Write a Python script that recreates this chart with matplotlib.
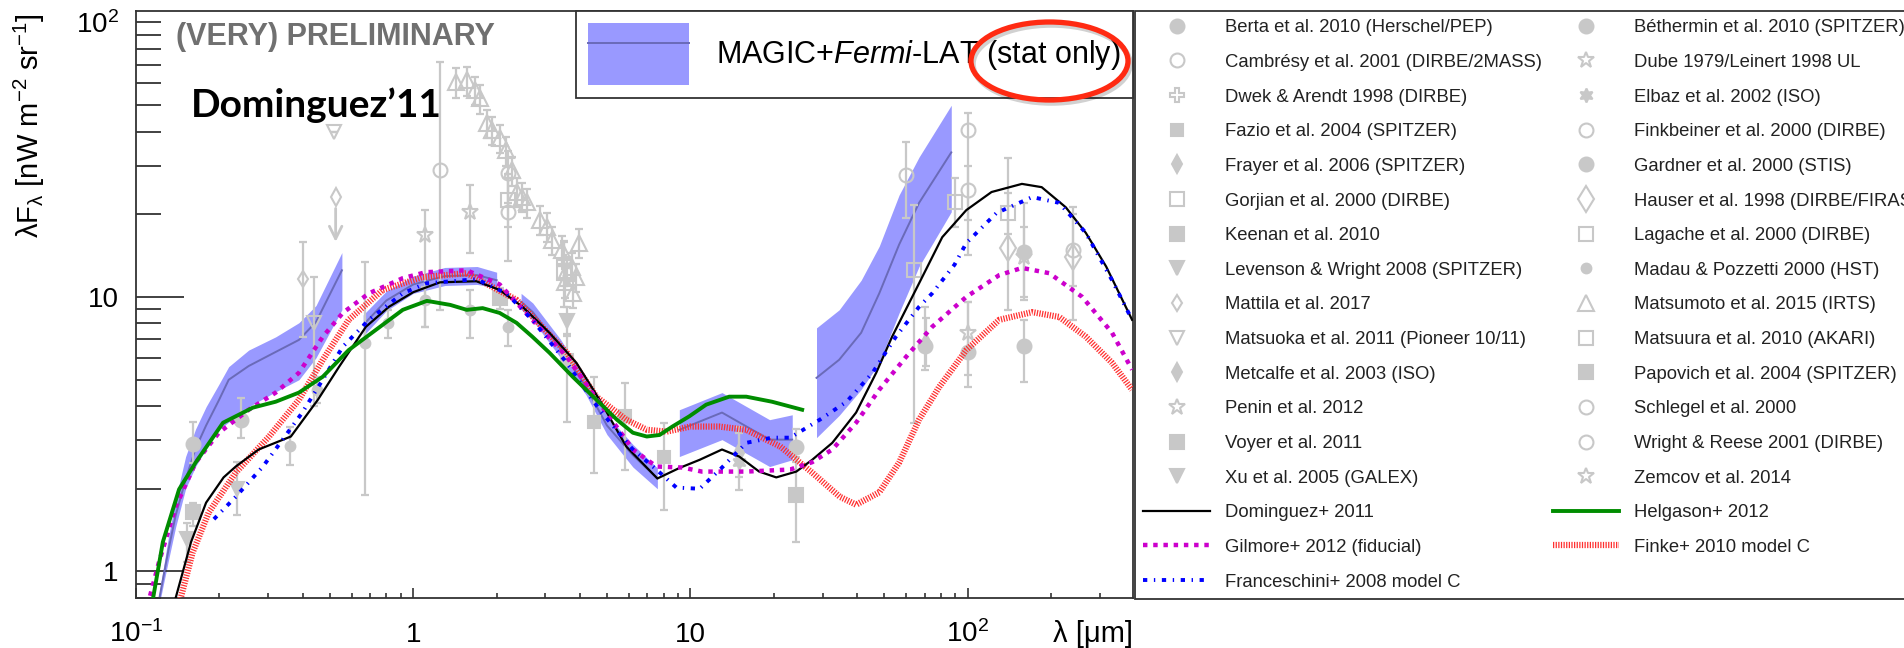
import numpy as np
import matplotlib
matplotlib.use("Agg")
import matplotlib.pyplot as plt
from matplotlib.lines import Line2D
from matplotlib.patches import Patch, Ellipse
from matplotlib.ticker import LogLocator, NullFormatter

plt.rcParams["font.family"] = ["Liberation Sans", "DejaVu Sans"]
plt.rcParams["mathtext.fontset"] = "custom"
plt.rcParams["mathtext.rm"] = "Liberation Sans"
plt.rcParams["mathtext.it"] = "Liberation Sans:italic"
plt.rcParams["mathtext.bf"] = "Liberation Sans:bold"

GREY = "#c8c8c8"
BAND = "#9999ff"
BAND_LINE = "#6a6ab8"

# EBL models: wavelength [um] and lambda*F_lambda [nW m^-2 sr^-1]
dom_wl = [0.136, 0.139, 0.158, 0.179, 0.207, 0.229, 0.277, 0.362, 0.453, 0.540, 0.675,
          0.817, 1.0, 1.25, 1.69, 2.05, 2.48, 3.1, 3.88, 4.7, 5.87, 7.6, 9.12, 10.8,
          13.0, 15.0, 17.7, 20.4, 24.1, 27.5, 32.5, 39.6, 46.8, 53.4, 66.8, 81, 98.9,
          122, 157, 185, 226, 267, 316, 392]
dom_f = [0.75, 0.8, 1.28, 1.78, 2.2, 2.41, 2.78, 3.1, 4.22, 5.56, 7.78, 9.2, 10.4, 11.3,
         11.4, 10.6, 9.2, 7.4, 5.75, 4.22, 2.85, 2.18, 2.38, 2.55, 2.78, 2.62, 2.31, 2.2,
         2.31, 2.55, 2.94, 3.79, 5.29, 7.16, 11.2, 16.5, 20.7, 24.1, 25.8, 25.1, 21.2,
         17.1, 12.9, 8.25]

gil_wl = [0.110, 0.121, 0.139, 0.164, 0.199, 0.255, 0.319, 0.387, 0.472, 0.557, 0.692,
          0.917, 1.11, 1.56, 2.05, 2.69, 3.58, 4.7, 6.2, 7.54, 9.35, 11.0, 15.9, 22.9,
          27.5, 32.5, 39.6, 48, 60, 74.5, 98.9, 130, 157, 197, 259, 332, 392]
gil_f = [0.75, 1.08, 1.72, 2.49, 3.2, 3.88, 4.48, 5.29, 7.16, 8.74, 10.3, 11.7, 12.3,
         12.5, 11.1, 8.25, 6.05, 4.11, 2.78, 2.41, 2.39, 2.31, 2.31, 2.35, 2.5, 2.78,
         3.48, 4.59, 6.05, 7.78, 10.0, 12.0, 12.75, 12.2, 10.0, 7.4, 5.43]

fra_wl = [0.191, 0.229, 0.287, 0.338, 0.398, 0.472, 0.557, 0.692, 0.917, 1.11, 1.69,
          2.17, 2.69, 3.58, 4.7, 6.2, 7.54, 8.9, 10.8, 13.0, 15.9, 19.7, 22.9, 29.3,
          36.6, 45.4, 55.1, 66.8, 74.5, 89.7, 98.9, 127, 171, 214, 267, 332, 392]
fra_f = [1.55, 1.87, 2.41, 3.02, 3.79, 5.0, 6.58, 8.25, 10.3, 11.2, 11.6, 10.3, 8.25,
         5.75, 3.88, 2.78, 2.35, 2.02, 2.0, 2.39, 2.94, 3.07, 3.07, 3.57, 4.15, 5.29,
         7.16, 9.2, 10.3, 13.1, 15.7, 20.2, 23.1, 22.0, 17.1, 11.5, 8.25]

fin_wl = [0.140, 0.145, 0.160, 0.183, 0.229, 0.302, 0.387, 0.472, 0.585, 0.776, 1.08,
          1.56, 2.36, 3.58, 4.58, 5.87, 6.96, 8.2, 10.0, 12.7, 15.9, 21.1, 27.5, 34.6,
          39.6, 48, 56.6, 66.8, 79, 98.9, 130, 171, 214, 267, 332, 392]
fin_f = [0.75, 0.8, 1.17, 1.64, 2.29, 3.1, 4.22, 5.9, 8.25, 10.6, 11.8, 12.2, 9.75,
         6.26, 4.33, 3.57, 3.28, 3.23, 3.37, 3.37, 3.28, 2.85, 2.29, 1.87, 1.75, 1.94,
         2.49, 3.57, 4.7, 6.4, 8.25, 8.8, 8.45, 7.16, 5.75, 4.59]

hel_wl = [0.114, 0.125, 0.143, 0.164, 0.206, 0.264, 0.319, 0.387, 0.472, 0.585, 0.733,
          0.917, 1.12, 1.36, 1.56, 1.78, 2.05, 2.36, 2.69, 3.1, 3.76, 4.58, 5.43, 6.2,
          6.96, 7.74, 8.61, 9.9, 11.4, 13.8, 15.9, 19.7, 25.3]
hel_f = [0.75, 1.28, 1.99, 2.49, 3.48, 3.95, 4.15, 4.48, 5.12, 6.4, 7.58, 8.97, 9.67,
         9.35, 8.97, 9.1, 8.74, 8.04, 7.16, 6.26, 5.12, 4.22, 3.57, 3.2, 3.1, 3.14, 3.37,
         3.67, 4.05, 4.33, 4.33, 4.15, 3.88]

# MAGIC+Fermi-LAT reconstructed EBL, one list per wavelength segment
band_wl = [[0.120, 0.131, 0.139, 0.151, 0.164, 0.179, 0.199, 0.216, 0.255, 0.319, 0.387, 0.446, 0.553],
           [0.66, 0.8, 1.0, 1.3, 1.7, 2.0],
           [2.45, 2.7, 3.4, 4.2, 5.0, 6.2, 7.6],
           [9.12, 13.0, 19.3, 23.3],
           [28.5, 34.4, 41.3, 48.0, 56.6, 66.8, 87.3]]
band_hi = [[0.78, 1.34, 1.83, 2.62, 3.3, 3.98, 4.8, 5.57, 6.4, 7.15, 8.05, 9.3, 14.5],
           [8.6, 10.5, 11.9, 12.8, 12.9, 12.3],
           [10.3, 9.5, 7.0, 5.0, 3.7, 2.9, 2.38],
           [3.88, 4.48, 3.57, 3.72],
           [7.71, 8.97, 11.5, 15.3, 23.5, 32.3, 49.9]]
band_lo = [[0.72, 1.10, 1.45, 2.0, 2.41, 2.8, 3.28, 3.5, 3.98, 4.51, 4.99, 6.0, 8.97],
           [7.2, 8.9, 10.3, 11.0, 11.1, 10.8],
           [9.0, 8.2, 6.0, 4.4, 3.15, 2.4, 2.0],
           [2.62, 3.02, 2.41, 2.55],
           [3.07, 3.7, 4.6, 5.75, 8.74, 12.9, 20.4]]
band_mid = [[0.75, 1.2, 1.6, 2.16, 2.8, 3.4, 4.2, 4.99, 5.6, 6.3, 6.97, 8.1, 12.5],
            [7.9, 9.7, 11.1, 11.9, 12.0, 11.5],
            [9.6, 8.8, 6.5, 4.7, 3.4, 2.65, 2.18],
            [3.28, 3.79, 3.02, 3.02],
            [5.07, 5.9, 7.4, 10.3, 15.5, 22.0, 33.6]]

# measurements: wavelength, value, lower end, upper end of the error bar
berta = ([100, 160], [6.3, 6.6], [4.7, 4.9], [9.6, 8.25])
cambresy = ([1.25, 2.2], [28.9, 20.4], [8.97, 13.5], [71.5, 28.0])
dwek = ([3.5], [13.4], [11.0], [16.0])
fazio = ([3.6, 4.5, 5.8, 8.0], [5.9, 3.5, 3.67, 2.62], [3.5, 2.29, 2.35, 1.68], [7.2, 5.12, 4.87, 3.48])
frayer = ([71], [6.8], [5.6], [8.4])
gorjian = ([2.2, 3.5], [22.5, 12.2], [17.9, 9.2], [27.2, 15.8])
keenan = ([2.05], [9.9], [9.0], [10.8])
levenson = ([3.6], [8.2], [7.3], [9.2])
mattila = ([0.40], [11.6], [7.15], [15.9])
mattila_ul = ([0.525], [23.1], [15.5])
matsuoka = ([0.44, 0.52], [8.04, 39.8], [4.0, 39.8], [11.8, 39.8])
metcalfe = ([15], [2.7], [2.2], [3.2])
penin = ([100, 160], [7.4, 14.0], [5.2, 10.0], [9.6, 18.0])
voyer = ([0.16], [1.64], [1.46], [1.78])
xu = ([0.153, 0.231], [1.31, 2.0], [1.08, 1.6], [1.5, 2.5])
bethermin = ([24, 70, 160], [2.85, 6.6, 14.6], [2.5, 5.43, 9.75], [3.3, 9.2, 22.0])
dube = ([], [], [], [])
elbaz = ([15.0], [2.5], [1.98], [3.37])
finkbeiner = ([60, 100], [27.8, 40.4], [19.4, 14.2], [36.6, 46.7])
gardner = ([0.16, 0.24], [2.92, 3.57], [2.49, 3.07], [3.51, 4.29])
hauser = ([140, 240], [15.1, 14.0], [8.97, 8.25], [32.0, 21.3])
lagache = ([140], [20.2], [17.0], [24.0])
madau = ([0.36, 0.45, 0.67, 0.81, 1.1, 1.6, 2.2], [2.87, 4.59, 6.8, 8.05, 9.75, 8.97, 7.78],
         [2.45, 4.1, 1.9, 7.1, 7.8, 7.1, 6.6], [3.37, 5.1, 13.4, 8.97, 10.9, 10.6, 8.97])
matsumoto = ([1.43, 1.56, 1.67, 1.74, 1.84, 1.93, 2.05, 2.17, 2.27, 2.36, 2.46, 2.57, 2.86,
              3.03, 3.18, 3.43, 3.52, 3.6, 3.73, 3.76, 3.88, 3.98],
             [60.5, 61.5, 56.6, 52.9, 42.9, 40.5, 37.8, 34.2, 28.9, 24.1, 23.1, 22.1, 19.1,
              18.0, 16.1, 14.8, 11.3, 12.5, 12.9, 10.3, 11.8, 15.7],
             [53, 54, 50, 46.5, 38, 35.6, 33.3, 30, 25.4, 21.2, 20.3, 19.4, 16.8, 15.8, 14.2,
              13, 9.9, 11, 11.4, 9.1, 10.4, 13.8],
             [68, 69, 63, 59, 48, 45.4, 42.3, 38.3, 32.4, 27, 25.9, 24.8, 21.4, 20.2, 18,
              16.6, 12.7, 14, 14.4, 11.5, 13.2, 17.6])
matsuura = ([64, 90], [12.5, 22.2], [3.48, 18.0], [21.6, 27.0])
papovich = ([24], [1.9], [1.28], [2.6])
schlegel = ([100, 240], [24.5, 14.8], [19.0, 11.0], [30.0, 20.0])
wright = ([2.2], [28.2], [22.0], [34.0])
zemcov = ([1.1, 1.6], [16.8, 20.4], [7.8, 14.5], [20.7, 25.5])

fig = plt.figure(figsize=(19.04, 6.48), dpi=100)
ax = fig.add_axes([136 / 1904, 50 / 648, 997 / 1904, 587 / 648])
ax.set_xscale("log")
ax.set_yscale("log")
ax.set_xlim(0.1, 395)
ax.set_ylim(0.8, 110)

# MAGIC+Fermi-LAT band
for wl, lo, hi, mid in zip(band_wl, band_lo, band_hi, band_mid):
    ax.fill_between(wl, lo, hi, color=BAND, lw=0, zorder=1.5)
    ax.plot(wl, mid, color=BAND_LINE, lw=1.4, zorder=1.6)


def draw_points(data, marker, filled, ms, label):
    wl, f, lo, hi = (np.array(v, dtype=float) for v in data)
    if len(wl):
        ax.errorbar(wl, f, yerr=[f - lo, hi - f], fmt="none", ecolor=GREY,
                    elinewidth=1.6, capsize=3, capthick=1.6, zorder=2)
    h, = ax.plot(wl, f, ls="none", marker=marker, ms=ms,
                 mfc=GREY if filled else "none", mec=GREY, mew=1.5,
                 label=label, zorder=2.2)
    return h


col1_pts = [("Berta et al. 2010 (Herschel/PEP)", berta, "o", True, 10),
            ("Cambrésy et al. 2001 (DIRBE/2MASS)", cambresy, "o", False, 10),
            ("Dwek & Arendt 1998 (DIRBE)", dwek, "P", False, 10),
            ("Fazio et al. 2004 (SPITZER)", fazio, "s", True, 8),
            ("Frayer et al. 2006 (SPITZER)", frayer, "d", True, 9),
            ("Gorjian et al. 2000 (DIRBE)", gorjian, "s", False, 10),
            ("Keenan et al. 2010", keenan, "s", True, 10),
            ("Levenson & Wright 2008 (SPITZER)", levenson, "v", True, 10),
            ("Mattila et al. 2017", mattila, "d", False, 8),
            ("Matsuoka et al. 2011 (Pioneer 10/11)", matsuoka, "v", False, 10),
            ("Metcalfe et al. 2003 (ISO)", metcalfe, "d", True, 9),
            ("Penin et al. 2012", penin, "*", False, 12),
            ("Voyer et al. 2011", voyer, "s", True, 10),
            ("Xu et al. 2005 (GALEX)", xu, "v", True, 10)]
col2_pts = [("Béthermin et al. 2010 (SPITZER)", bethermin, "o", True, 10),
            ("Dube 1979/Leinert 1998 UL", dube, "*", False, 12),
            ("Elbaz et al. 2002 (ISO)", elbaz, (6, 1, 0), True, 10),
            ("Finkbeiner et al. 2000 (DIRBE)", finkbeiner, "o", False, 10),
            ("Gardner et al. 2000 (STIS)", gardner, "o", True, 10),
            ("Hauser et al. 1998 (DIRBE/FIRAS)", hauser, "d", False, 13),
            ("Lagache et al. 2000 (DIRBE)", lagache, "s", False, 10),
            ("Madau & Pozzetti 2000 (HST)", madau, "o", True, 7),
            ("Matsumoto et al. 2015 (IRTS)", matsumoto, "^", False, 11),
            ("Matsuura et al. 2010 (AKARI)", matsuura, "s", False, 10),
            ("Papovich et al. 2004 (SPITZER)", papovich, "s", True, 10),
            ("Schlegel et al. 2000", schlegel, "o", False, 10),
            ("Wright & Reese 2001 (DIRBE)", wright, "o", False, 10),
            ("Zemcov et al. 2014", zemcov, "*", False, 12)]

col1 = [draw_points(d, m, fl, s, lab) for lab, d, m, fl, s in col1_pts]
col2 = [draw_points(d, m, fl, s, lab) for lab, d, m, fl, s in col2_pts]

# upper limit from Mattila
ax.annotate("", xy=(mattila_ul[0][0], mattila_ul[2][0]), xytext=(mattila_ul[0][0], mattila_ul[1][0] * 0.93),
            arrowprops=dict(arrowstyle="->,head_length=0.9,head_width=0.45", color=GREY, lw=2),
            zorder=2)
ax.plot(mattila_ul[0], mattila_ul[1], ls="none", marker="d", ms=9, mfc="none", mec=GREY, mew=1.5, zorder=2.2)

# model curves
h_dom, = ax.plot(dom_wl, dom_f, color="black", lw=1.6, zorder=3, label="Dominguez+ 2011")
h_gil, = ax.plot(gil_wl, gil_f, color="#cc00cc", lw=3.2, ls=(0, (1, 1.3)),
                 dash_capstyle="butt", zorder=3, label="Gilmore+ 2012 (fiducial)")
h_fra, = ax.plot(fra_wl, fra_f, color="#0000ff", lw=2.8, ls=(0, (1.1, 1.7, 0.35, 1.7)),
                 dash_capstyle="butt", zorder=3, label="Franceschini+ 2008 model C")
h_hel, = ax.plot(hel_wl, hel_f, color="#008c00", lw=2.8, zorder=3, label="Helgason+ 2012")
h_fin, = ax.plot(fin_wl, fin_f, color="#ff3030", lw=4.5, ls=(0, (0.2, 0.22)),
                 dash_capstyle="butt", zorder=2.9, label="Finke+ 2010 model C")

# axes styling
ax.set_xticks([0.1, 1, 10, 100], [r"$10^{-1}$", "1", "10", r"$10^{2}$"])
ax.set_yticks([1, 10, 100], ["1", "10", r"$10^{2}$"])
ax.xaxis.set_minor_locator(LogLocator(base=10, subs=np.arange(2, 10) * 1.0, numticks=30))
ax.yaxis.set_minor_locator(LogLocator(base=10, subs=np.arange(2, 10) * 1.0, numticks=30))
ax.xaxis.set_minor_formatter(NullFormatter())
ax.yaxis.set_minor_formatter(NullFormatter())
ax.tick_params(axis="x", which="major", direction="in", length=7.5, width=1.2, color="#333333",
               labelsize=20, pad=31.5, top=False)
ax.tick_params(axis="x", which="minor", direction="in", length=3.6, width=1.2, color="#333333", top=False)
ax.tick_params(axis="y", which="major", direction="in", length=34.5, width=1.3, color="#333333",
               labelsize=20, pad=12.5, right=False)
ax.tick_params(axis="y", which="minor", direction="in", length=18, width=1.3, color="#333333", right=False)
for lbl in ax.get_xticklabels():
    lbl.set_verticalalignment("baseline")
ax.yaxis.get_major_ticks()[2].tick1line.set_markersize(18)
for sp in ax.spines.values():
    sp.set_color("#333333")
    sp.set_linewidth(1.3)

ax.set_xlabel("λ [μm]", fontsize=21, loc="right")
ax.xaxis.set_label_coords(1.0, -0.075)
ax.xaxis.label.set_verticalalignment("baseline")
fig.text(29.5 / 1904, 1 - 13 / 648, r"λF$_{\mathrm{λ}}$ [nW m$^{-2}$ sr$^{-1}$]", fontsize=21,
         rotation=90, ha="center", va="top")

ax.text(0.040, 0.942, "(VERY) PRELIMINARY", transform=ax.transAxes, fontsize=22,
        fontweight="bold", color="#707070", va="baseline", ha="left", zorder=5)
ax.text(0.0552, 0.8194, "Dominguez’11", transform=ax.transAxes, fontsize=28,
        fontweight="bold", family=["Lato", "DejaVu Sans"], va="baseline", ha="left", zorder=5)

# MAGIC legend box
magic_leg = ax.legend(handles=[(Patch(fc=BAND, ec="none"), Line2D([], [], color=BAND_LINE, lw=1.4))],
                      labels=[r"MAGIC+$\mathit{Fermi}$-LAT (stat only)"],
                      loc="upper right", bbox_to_anchor=(1, 1), borderaxespad=0, fontsize=22,
                      handlelength=3.3, handleheight=2.75, handletextpad=0.9, borderpad=0.4,
                      fancybox=False, edgecolor="#333333", framealpha=1)
magic_leg.get_frame().set_linewidth(1.3)
magic_leg.set_zorder(6)

# list of measurements and models
handles = col1 + [h_dom, h_gil, h_fra] + col2 + [h_hel, h_fin]
leg = fig.legend(handles=handles, labels=[h.get_label() for h in handles], ncol=2,
                 loc="upper left", bbox_to_anchor=(1135 / 1904, 1 - 11 / 648),
                 bbox_transform=fig.transFigure, borderaxespad=0, fontsize=13.3,
                 handlelength=3.6, handletextpad=0.8, columnspacing=0.6,
                 labelspacing=0.955, borderpad=0.45, fancybox=False,
                 edgecolor="#333333", framealpha=1)
leg.get_frame().set_linewidth(1.3)
for t in leg.get_texts():
    t.set_color("#222222")

# red ring around "(stat only)"
shadow = Ellipse((1051.5 / 1904, 1 - 64 / 648), 157 / 1904, 78 / 648, transform=fig.transFigure,
                 fill=False, ec=(0, 0, 0, 0.18), lw=4, zorder=7)
ring = Ellipse((1049.5 / 1904, 1 - 61 / 648), 157 / 1904, 78 / 648, transform=fig.transFigure,
               fill=False, ec="#ff2a12", lw=3.8, zorder=8)
fig.add_artist(shadow)
fig.add_artist(ring)

fig.savefig("out.png", dpi=100)
